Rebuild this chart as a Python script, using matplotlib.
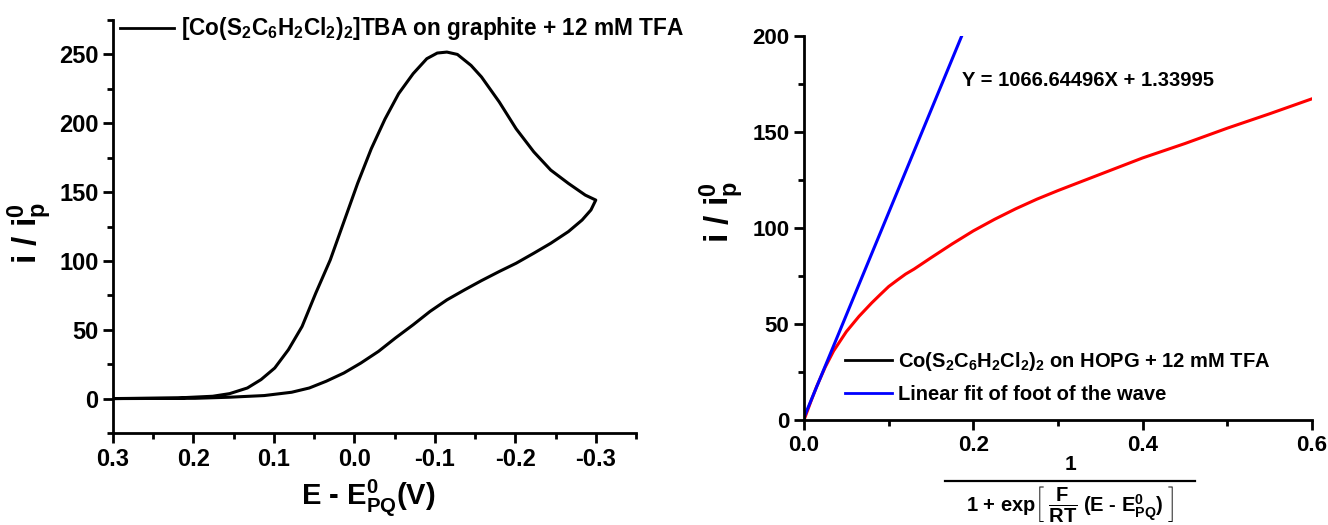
import numpy as np
import matplotlib
matplotlib.use('Agg')
import matplotlib.pyplot as plt
from matplotlib.lines import Line2D
from matplotlib.ticker import MultipleLocator, FormatStrFormatter

plt.rcParams['font.family'] = ['Liberation Sans', 'DejaVu Sans']
plt.rcParams['font.weight'] = 'bold'
plt.rcParams['mathtext.fontset'] = 'custom'
plt.rcParams['mathtext.rm'] = 'Liberation Sans:bold'
plt.rcParams['mathtext.it'] = 'Liberation Sans:bold'
plt.rcParams['mathtext.bf'] = 'Liberation Sans:bold'
plt.rcParams['mathtext.sf'] = 'Liberation Sans:bold'
plt.rcParams['axes.unicode_minus'] = False

# CV on graphite: forward (reductive) scan then the return scan
e_fwd = [0.30, 0.219, 0.176, 0.155, 0.133, 0.116, 0.099, 0.082, 0.065, 0.048,
         0.030, 0.013, -0.004, -0.021, -0.038, -0.055, -0.073, -0.090, -0.103,
         -0.115, -0.128, -0.145, -0.158, -0.180, -0.201, -0.223, -0.244, -0.266,
         -0.287, -0.300]
i_fwd = [0.0, 0.5, 1.7, 3.6, 7.7, 13.8, 22.2, 35.5, 52.4, 76.6,
         100.7, 128.5, 156.3, 181.5, 203, 221.5, 236, 246.9, 251,
         251.7, 250, 242, 233.6, 215.5, 196, 179.2, 166, 156.3,
         147.8, 144.2]
e_rev = [-0.300, -0.294, -0.283, -0.266, -0.244, -0.223, -0.201, -0.180, -0.158,
         -0.137, -0.115, -0.094, -0.073, -0.051, -0.030, -0.008, 0.013, 0.035,
         0.056, 0.078, 0.112, 0.155, 0.198, 0.30]
i_rev = [144.2, 137, 129.7, 121.3, 112.8, 105.6, 98.3, 92.3, 85.7,
         79, 71.7, 63.3, 53.6, 44, 34.3, 25.8, 18.6, 12.6,
         7.7, 4.6, 2.2, 1.0, 0.2, 0.0]

# foot-of-the-wave analysis on HOPG
fow_x = [0.0, 0.008, 0.015, 0.025, 0.035, 0.05, 0.065, 0.08, 0.09, 0.1, 0.11,
         0.12, 0.13, 0.15, 0.175, 0.2, 0.225, 0.25, 0.275, 0.3, 0.35, 0.4,
         0.45, 0.5, 0.55, 0.6]
fow_y = [0.0, 9.5, 17.5, 27.5, 36, 46, 54, 61, 65.3, 69.5, 72.8,
         76, 78.6, 84.5, 91.7, 98.5, 104.5, 110, 115, 119.5, 128, 136.5,
         144, 152, 159.5, 167.3]
fit_slope = 1066.64496
fit_intercept = 1.33995

W, H = 1328, 525


def fx(px):
    return px / W


def fy(py):
    return 1 - py / H


fig = plt.figure(figsize=(W / 100, H / 100), dpi=100)
fig.patch.set_facecolor('white')


def style_axes(ax, fs):
    for s in ['top', 'right']:
        ax.spines[s].set_visible(False)
    for s in ['left', 'bottom']:
        ax.spines[s].set_linewidth(2)
    ax.tick_params(which='major', direction='out', length=7, width=2, labelsize=fs)
    ax.tick_params(which='minor', direction='out', length=4, width=2)


# ---- left: cyclic voltammogram ----
ax1 = fig.add_axes([fx(113), fy(433), fx(636) - fx(113), fy(20) - fy(433)])
ax1.plot(e_fwd + e_rev, i_fwd + i_rev, color='black', lw=2.2)
ax1.set_xlim(0.3, -0.35)
ax1.set_ylim(-25, 275)
ax1.xaxis.set_major_locator(MultipleLocator(0.1))
ax1.xaxis.set_minor_locator(MultipleLocator(0.05))
ax1.xaxis.set_major_formatter(FormatStrFormatter('%.1f'))
ax1.yaxis.set_major_locator(MultipleLocator(50))
ax1.yaxis.set_minor_locator(MultipleLocator(25))
ax1.set_yticks([0, 50, 100, 150, 200, 250])
style_axes(ax1, 17)

h1 = [Line2D([], [], color='black', lw=2)]
fig.legend(h1, [r'[Co(S$_2$C$_6$H$_2$Cl$_2$)$_2$]TBA on graphite + 12 mM TFA'],
           loc='center left', bbox_to_anchor=(fx(120), fy(29)),
           bbox_transform=fig.transFigure, frameon=False, fontsize=16.3,
           handlelength=2.4, handletextpad=0.3, borderpad=0, borderaxespad=0)

fig.text(fx(30), fy(233), r'i / i$_\mathrm{p}^\mathrm{0}$', rotation=90,
         ha='center', va='center', fontsize=24)
fig.text(fx(368), fy(497), r'E - E$^\mathrm{0}_\mathrm{PQ}$(V)',
         ha='center', va='center', fontsize=21)

# ---- right: foot-of-the-wave plot ----
ax2 = fig.add_axes([fx(804), fy(420), fx(1312) - fx(804), fy(36) - fy(420)])
ax2.plot(fow_x, fow_y, color='red', lw=2.2)
x_fit = np.linspace(0, (200 - fit_intercept) / fit_slope, 50)
ax2.plot(x_fit, fit_slope * x_fit + fit_intercept, color='blue', lw=2.2)
ax2.set_xlim(0, 0.6)
ax2.set_ylim(0, 200)
ax2.xaxis.set_major_locator(MultipleLocator(0.2))
ax2.xaxis.set_minor_locator(MultipleLocator(0.1))
ax2.xaxis.set_major_formatter(FormatStrFormatter('%.1f'))
ax2.yaxis.set_major_locator(MultipleLocator(50))
ax2.yaxis.set_minor_locator(MultipleLocator(25))
style_axes(ax2, 16)

ax2.text(fx(962), fy(80), 'Y = 1066.64496X + 1.33995', transform=fig.transFigure,
         ha='left', va='center', fontsize=14.5)

h2 = [Line2D([], [], color='black', lw=2), Line2D([], [], color='blue', lw=2)]
fig.legend(h2, [r'Co(S$_2$C$_6$H$_2$Cl$_2$)$_2$ on HOPG + 12 mM TFA',
                'Linear fit of foot of the wave'],
           loc='center left', bbox_to_anchor=(fx(845), fy(377)),
           bbox_transform=fig.transFigure, frameon=False, fontsize=14.5,
           handlelength=2.35, handletextpad=0.3, labelspacing=0.6,
           borderpad=0, borderaxespad=0)

fig.text(fx(722), fy(212), r'i / i$_\mathrm{p}^\mathrm{0}$', rotation=90,
         ha='center', va='center', fontsize=24)

# x label as a stacked fraction
fig.text(fx(1070), fy(465), '1', ha='center', va='center', fontsize=15)
fig.add_artist(Line2D([fx(945), fx(1195)], [fy(481), fy(481)],
                      transform=fig.transFigure, color='black', lw=1.6))
fig.text(fx(1070), fy(512),
         r'1 + exp$\left[\;\dfrac{F}{RT}\;\text{(E - E}^\mathrm{0}_\mathrm{PQ}\text{)}\;\right]$',
         ha='center', va='baseline', fontsize=14.5)

fig.savefig('out.png', dpi=100)
